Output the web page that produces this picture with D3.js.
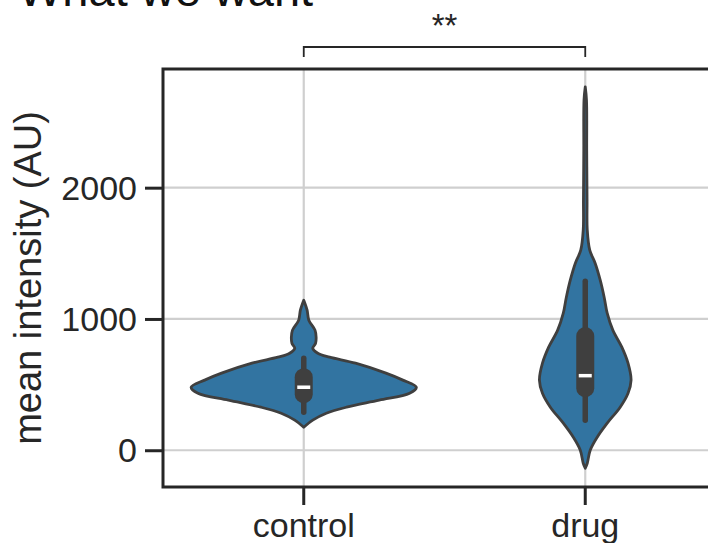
<!DOCTYPE html>
<html><head><meta charset="utf-8">
<script src="https://cdn.jsdelivr.net/npm/d3@7"></script>
<style>body{margin:0;background:#fff;} svg{display:block;font-family:"Liberation Sans",Arial,sans-serif;}</style>
</head><body>
<svg id="chart" width="708" height="543"></svg>
<script>
// ---- data ----
const categories = ["control", "drug"];
const yTickValues = [0, 1000, 2000];
const yLabel = "mean intensity (AU)";
const titleText = "What we want";
const sigLabel = "**";

// KDE outline: value -> relative density (control peak = 1)
const controlValues  = [1143, 1067, 991, 915, 861, 815, 777, 739, 709, 663, 587, 534, 480, 434, 381, 328, 282, 229, 175];
const controlDensity = [0, 0.03, 0.045, 0.10, 0.11, 0.105, 0.08, 0.125, 0.23, 0.46, 0.73, 0.88, 1.0, 0.94, 0.67, 0.38, 0.20, 0.08, 0];
const drugValues  = [2767, 2668, 2287, 1906, 1677, 1524, 1425, 1296, 1166, 1044, 915, 785, 663, 534, 434, 328, 206, 99, 0, -99, -137];
const drugDensity = [0, 0.011, 0.013, 0.016, 0.018, 0.04, 0.088, 0.133, 0.168, 0.195, 0.245, 0.325, 0.38, 0.407, 0.38, 0.31, 0.195, 0.106, 0.044, 0.018, 0];

// inner box statistics per category
const whiskerLow  = [290, 229];
const quartile1   = [358, 404];
const medians     = [480, 568];
const quartile3   = [625, 938];
const whiskerHigh = [701, 1288];

// ---- layout ----
const svg = d3.select("#chart");
const plotLeft = 163, plotRight = 726, plotTop = 69, plotBottom = 487;
const textColor = "#262626";

const x = d3.scaleBand().domain(categories).range([plotLeft, plotRight]).padding(0);
const y = d3.scaleLinear().domain([-280, 2904]).range([plotBottom, plotTop]);
const w = d3.scaleLinear().domain([0, 1]).range([0, x.bandwidth() * 0.4]);

// grid
const grid = svg.append("g");
grid.selectAll("line.h").data(yTickValues).join("line")
  .attr("x1", plotLeft).attr("x2", plotRight)
  .attr("y1", d => y(d)).attr("y2", d => y(d))
  .attr("stroke", "#cfcfcf").attr("stroke-width", 2.2);
grid.selectAll("line.v").data(categories).join("line")
  .attr("y1", plotTop).attr("y2", plotBottom)
  .attr("x1", d => x(d) + x.bandwidth() / 2).attr("x2", d => x(d) + x.bandwidth() / 2)
  .attr("stroke", "#cfcfcf").attr("stroke-width", 2.2);

// violins
const profiles = [
  d3.zip(controlValues, controlDensity),
  d3.zip(drugValues, drugDensity)
];
profiles.forEach((prof, i) => {
  const cx = x(categories[i]) + x.bandwidth() / 2;
  const area = d3.area()
    .y(d => y(d[0]))
    .x0(d => cx - w(d[1]))
    .x1(d => cx + w(d[1]))
    .curve(d3.curveCatmullRom.alpha(0.5));
  svg.append("path").datum(prof)
    .attr("d", area)
    .attr("fill", "#3274a1")
    .attr("stroke", "#3f3f3f").attr("stroke-width", 2.8)
    .attr("stroke-linejoin", "round");

  // whisker
  svg.append("line")
    .attr("x1", cx).attr("x2", cx)
    .attr("y1", y(whiskerHigh[i])).attr("y2", y(whiskerLow[i]))
    .attr("stroke", "#3f3f3f").attr("stroke-width", 5.5).attr("stroke-linecap", "round");
  // box
  const bw = 18;
  svg.append("rect")
    .attr("x", cx - bw / 2).attr("width", bw)
    .attr("y", y(quartile3[i])).attr("height", y(quartile1[i]) - y(quartile3[i]))
    .attr("rx", bw / 2).attr("ry", bw / 2)
    .attr("fill", "#3f3f3f");
  // median
  svg.append("line")
    .attr("x1", cx - 6.5).attr("x2", cx + 6.5)
    .attr("y1", y(medians[i])).attr("y2", y(medians[i]))
    .attr("stroke", "#ffffff").attr("stroke-width", 3.5);
});

// spines (right spine falls outside the window)
svg.append("rect")
  .attr("x", plotLeft).attr("y", plotTop)
  .attr("width", plotRight - plotLeft).attr("height", plotBottom - plotTop)
  .attr("fill", "none").attr("stroke", textColor).attr("stroke-width", 3);

// y axis
const yAxis = svg.append("g").attr("transform", `translate(${plotLeft},0)`)
  .call(d3.axisLeft(y).tickValues(yTickValues).tickSize(18).tickPadding(8).tickFormat(d3.format("d")));
yAxis.select(".domain").remove();
yAxis.selectAll(".tick line").attr("stroke", textColor).attr("stroke-width", 3);
yAxis.selectAll(".tick text").attr("fill", textColor).attr("font-size", 34)
  .attr("font-family", "Liberation Sans, Arial, sans-serif").attr("dy", "0.34em");

// x axis
const xAxis = svg.append("g").attr("transform", `translate(0,${plotBottom})`)
  .call(d3.axisBottom(x).tickSize(18).tickPadding(8));
xAxis.select(".domain").remove();
xAxis.selectAll(".tick line").attr("stroke", textColor).attr("stroke-width", 3);
xAxis.selectAll(".tick text").attr("fill", textColor).attr("font-size", 34)
  .attr("font-family", "Liberation Sans, Arial, sans-serif").attr("dy", "0.72em");

// y label
svg.append("text")
  .attr("transform", `translate(41,${(plotTop + plotBottom) / 2}) rotate(-90)`)
  .attr("text-anchor", "middle")
  .attr("fill", textColor).attr("font-size", 38)
  .text(yLabel);

// title (clipped at top as in reference)
svg.append("text")
  .attr("x", 18).attr("y", 6)
  .attr("fill", "#111").attr("font-size", 47)
  .text(titleText);

// significance bracket
const xa = x(categories[0]) + x.bandwidth() / 2;
const xb = x(categories[1]) + x.bandwidth() / 2;
const by = 47, bt = 57;
svg.append("path")
  .attr("d", `M${xa},${bt}L${xa},${by}L${xb},${by}L${xb},${bt}`)
  .attr("fill", "none").attr("stroke", textColor).attr("stroke-width", 1.8);
svg.append("text")
  .attr("x", (xa + xb) / 2).attr("y", 37)
  .attr("text-anchor", "middle").attr("fill", textColor).attr("font-size", 33)
  .text(sigLabel);
</script>
</body></html>
